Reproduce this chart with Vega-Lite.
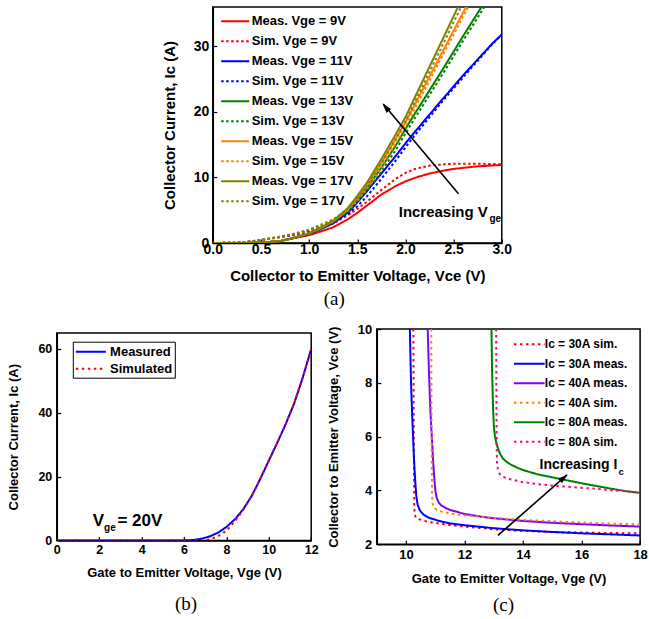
{
"$schema":"https://vega.github.io/schema/vega-lite/v6.json",
"background":"white",
"autosize":{"type":"pad"},
"padding":{"left":5.8,"top":6,"right":0,"bottom":0},
"spacing":11.7,
"resolve":{"scale":{"x":"independent","y":"independent","color":"independent","strokeDash":"independent"},"legend":{"color":"independent","strokeDash":"independent"}},
"config":{
 "font":"Liberation Sans",
 "view":{"stroke":null},
 "axis":{"labelFont":"Liberation Sans","labelFontWeight":"bold","titleFont":"Liberation Sans","titleFontWeight":"bold","labelColor":"black","titleColor":"black","domainColor":"black","domainWidth":1.5,"tickColor":"black","tickWidth":1.2,"tickSize":-4,"labelPadding":8,"grid":false,"labelFlush":false,"labelOverlap":false},
 "legend":{"labelFont":"Liberation Sans","labelFontWeight":"bold","labelColor":"black"}
},
"datasets":{
"a":[
{"s":"Meas. Vge = 9V","x":0,"y":0},{"s":"Meas. Vge = 9V","x":0.3,"y":0},{"s":"Meas. Vge = 9V","x":0.5,"y":0.05},{"s":"Meas. Vge = 9V","x":0.7,"y":0.3},{"s":"Meas. Vge = 9V","x":0.85,"y":0.75},{"s":"Meas. Vge = 9V","x":1.0,"y":1.2},{"s":"Meas. Vge = 9V","x":1.15,"y":1.9},{"s":"Meas. Vge = 9V","x":1.25,"y":2.4},{"s":"Meas. Vge = 9V","x":1.4,"y":3.6},{"s":"Meas. Vge = 9V","x":1.5,"y":4.6},{"s":"Meas. Vge = 9V","x":1.6,"y":5.7},{"s":"Meas. Vge = 9V","x":1.75,"y":7.4},{"s":"Meas. Vge = 9V","x":1.9,"y":8.7},{"s":"Meas. Vge = 9V","x":2.0,"y":9.4},{"s":"Meas. Vge = 9V","x":2.1,"y":9.95},{"s":"Meas. Vge = 9V","x":2.25,"y":10.6},{"s":"Meas. Vge = 9V","x":2.4,"y":11.05},{"s":"Meas. Vge = 9V","x":2.5,"y":11.3},{"s":"Meas. Vge = 9V","x":2.75,"y":11.7},{"s":"Meas. Vge = 9V","x":3.0,"y":11.9},
{"s":"Sim. Vge = 9V","x":0,"y":0},{"s":"Sim. Vge = 9V","x":0.25,"y":0.05},{"s":"Sim. Vge = 9V","x":0.4,"y":0.25},{"s":"Sim. Vge = 9V","x":0.5,"y":0.45},{"s":"Sim. Vge = 9V","x":0.6,"y":0.65},{"s":"Sim. Vge = 9V","x":0.75,"y":1.0},{"s":"Sim. Vge = 9V","x":0.9,"y":1.4},{"s":"Sim. Vge = 9V","x":1.0,"y":1.7},{"s":"Sim. Vge = 9V","x":1.15,"y":2.4},{"s":"Sim. Vge = 9V","x":1.25,"y":3.0},{"s":"Sim. Vge = 9V","x":1.4,"y":4.2},{"s":"Sim. Vge = 9V","x":1.5,"y":5.2},{"s":"Sim. Vge = 9V","x":1.6,"y":6.3},{"s":"Sim. Vge = 9V","x":1.75,"y":8.1},{"s":"Sim. Vge = 9V","x":1.9,"y":9.8},{"s":"Sim. Vge = 9V","x":2.0,"y":10.7},{"s":"Sim. Vge = 9V","x":2.1,"y":11.3},{"s":"Sim. Vge = 9V","x":2.25,"y":11.8},{"s":"Sim. Vge = 9V","x":2.4,"y":12.0},{"s":"Sim. Vge = 9V","x":2.5,"y":12.1},{"s":"Sim. Vge = 9V","x":2.75,"y":12.1},{"s":"Sim. Vge = 9V","x":3.0,"y":12.0},
{"s":"Meas. Vge = 11V","x":0,"y":0},{"s":"Meas. Vge = 11V","x":0.3,"y":0},{"s":"Meas. Vge = 11V","x":0.5,"y":0.05},{"s":"Meas. Vge = 11V","x":0.7,"y":0.3},{"s":"Meas. Vge = 11V","x":0.85,"y":0.8},{"s":"Meas. Vge = 11V","x":1.0,"y":1.35},{"s":"Meas. Vge = 11V","x":1.15,"y":2.3},{"s":"Meas. Vge = 11V","x":1.25,"y":3.0},{"s":"Meas. Vge = 11V","x":1.4,"y":4.6},{"s":"Meas. Vge = 11V","x":1.5,"y":6.2},{"s":"Meas. Vge = 11V","x":1.6,"y":7.9},{"s":"Meas. Vge = 11V","x":1.75,"y":10.6},{"s":"Meas. Vge = 11V","x":1.9,"y":13.3},{"s":"Meas. Vge = 11V","x":2.0,"y":15.2},{"s":"Meas. Vge = 11V","x":2.1,"y":17.0},{"s":"Meas. Vge = 11V","x":2.25,"y":19.6},{"s":"Meas. Vge = 11V","x":2.4,"y":22.2},{"s":"Meas. Vge = 11V","x":2.5,"y":23.9},{"s":"Meas. Vge = 11V","x":2.6,"y":25.6},{"s":"Meas. Vge = 11V","x":2.75,"y":28.0},{"s":"Meas. Vge = 11V","x":2.9,"y":30.4},{"s":"Meas. Vge = 11V","x":3.0,"y":31.8},
{"s":"Sim. Vge = 11V","x":0,"y":0},{"s":"Sim. Vge = 11V","x":0.25,"y":0.05},{"s":"Sim. Vge = 11V","x":0.4,"y":0.25},{"s":"Sim. Vge = 11V","x":0.5,"y":0.45},{"s":"Sim. Vge = 11V","x":0.6,"y":0.7},{"s":"Sim. Vge = 11V","x":0.75,"y":1.05},{"s":"Sim. Vge = 11V","x":0.9,"y":1.5},{"s":"Sim. Vge = 11V","x":1.0,"y":1.85},{"s":"Sim. Vge = 11V","x":1.15,"y":2.6},{"s":"Sim. Vge = 11V","x":1.25,"y":3.2},{"s":"Sim. Vge = 11V","x":1.4,"y":4.4},{"s":"Sim. Vge = 11V","x":1.5,"y":5.6},{"s":"Sim. Vge = 11V","x":1.6,"y":7.1},{"s":"Sim. Vge = 11V","x":1.75,"y":9.8},{"s":"Sim. Vge = 11V","x":1.9,"y":12.6},{"s":"Sim. Vge = 11V","x":2.0,"y":14.6},{"s":"Sim. Vge = 11V","x":2.1,"y":16.5},{"s":"Sim. Vge = 11V","x":2.25,"y":19.2},{"s":"Sim. Vge = 11V","x":2.4,"y":21.9},{"s":"Sim. Vge = 11V","x":2.5,"y":23.6},{"s":"Sim. Vge = 11V","x":2.6,"y":25.3},{"s":"Sim. Vge = 11V","x":2.75,"y":27.8},{"s":"Sim. Vge = 11V","x":2.9,"y":30.3},{"s":"Sim. Vge = 11V","x":3.0,"y":31.8},
{"s":"Meas. Vge = 13V","x":0,"y":0},{"s":"Meas. Vge = 13V","x":0.3,"y":0},{"s":"Meas. Vge = 13V","x":0.5,"y":0.05},{"s":"Meas. Vge = 13V","x":0.7,"y":0.3},{"s":"Meas. Vge = 13V","x":0.85,"y":0.8},{"s":"Meas. Vge = 13V","x":1.0,"y":1.4},{"s":"Meas. Vge = 13V","x":1.15,"y":2.4},{"s":"Meas. Vge = 13V","x":1.25,"y":3.2},{"s":"Meas. Vge = 13V","x":1.4,"y":4.9},{"s":"Meas. Vge = 13V","x":1.5,"y":6.6},{"s":"Meas. Vge = 13V","x":1.6,"y":8.4},{"s":"Meas. Vge = 13V","x":1.75,"y":11.5},{"s":"Meas. Vge = 13V","x":1.9,"y":14.9},{"s":"Meas. Vge = 13V","x":2.0,"y":17.4},{"s":"Meas. Vge = 13V","x":2.1,"y":19.8},{"s":"Meas. Vge = 13V","x":2.25,"y":23.3},{"s":"Meas. Vge = 13V","x":2.4,"y":26.8},{"s":"Meas. Vge = 13V","x":2.5,"y":29.2},{"s":"Meas. Vge = 13V","x":2.6,"y":31.6},{"s":"Meas. Vge = 13V","x":2.75,"y":35.1},{"s":"Meas. Vge = 13V","x":2.9,"y":38.5},
{"s":"Sim. Vge = 13V","x":0,"y":0},{"s":"Sim. Vge = 13V","x":0.25,"y":0.05},{"s":"Sim. Vge = 13V","x":0.4,"y":0.25},{"s":"Sim. Vge = 13V","x":0.5,"y":0.45},{"s":"Sim. Vge = 13V","x":0.6,"y":0.7},{"s":"Sim. Vge = 13V","x":0.75,"y":1.1},{"s":"Sim. Vge = 13V","x":0.9,"y":1.55},{"s":"Sim. Vge = 13V","x":1.0,"y":1.95},{"s":"Sim. Vge = 13V","x":1.15,"y":2.75},{"s":"Sim. Vge = 13V","x":1.25,"y":3.4},{"s":"Sim. Vge = 13V","x":1.4,"y":4.75},{"s":"Sim. Vge = 13V","x":1.5,"y":6.2},{"s":"Sim. Vge = 13V","x":1.6,"y":7.9},{"s":"Sim. Vge = 13V","x":1.75,"y":10.9},{"s":"Sim. Vge = 13V","x":1.9,"y":14.2},{"s":"Sim. Vge = 13V","x":2.0,"y":16.7},{"s":"Sim. Vge = 13V","x":2.1,"y":19.1},{"s":"Sim. Vge = 13V","x":2.25,"y":22.6},{"s":"Sim. Vge = 13V","x":2.4,"y":26.1},{"s":"Sim. Vge = 13V","x":2.5,"y":28.5},{"s":"Sim. Vge = 13V","x":2.6,"y":30.9},{"s":"Sim. Vge = 13V","x":2.75,"y":34.4},{"s":"Sim. Vge = 13V","x":2.9,"y":37.9},
{"s":"Meas. Vge = 15V","x":0,"y":0},{"s":"Meas. Vge = 15V","x":0.3,"y":0},{"s":"Meas. Vge = 15V","x":0.5,"y":0.05},{"s":"Meas. Vge = 15V","x":0.7,"y":0.3},{"s":"Meas. Vge = 15V","x":0.85,"y":0.85},{"s":"Meas. Vge = 15V","x":1.0,"y":1.45},{"s":"Meas. Vge = 15V","x":1.15,"y":2.5},{"s":"Meas. Vge = 15V","x":1.25,"y":3.3},{"s":"Meas. Vge = 15V","x":1.4,"y":5.1},{"s":"Meas. Vge = 15V","x":1.5,"y":6.9},{"s":"Meas. Vge = 15V","x":1.6,"y":8.8},{"s":"Meas. Vge = 15V","x":1.75,"y":12.2},{"s":"Meas. Vge = 15V","x":1.9,"y":15.9},{"s":"Meas. Vge = 15V","x":2.0,"y":18.4},{"s":"Meas. Vge = 15V","x":2.1,"y":21.2},{"s":"Meas. Vge = 15V","x":2.25,"y":25.4},{"s":"Meas. Vge = 15V","x":2.4,"y":29.6},{"s":"Meas. Vge = 15V","x":2.5,"y":32.4},{"s":"Meas. Vge = 15V","x":2.6,"y":35.2},{"s":"Meas. Vge = 15V","x":2.7,"y":38.0},
{"s":"Sim. Vge = 15V","x":0,"y":0},{"s":"Sim. Vge = 15V","x":0.25,"y":0.05},{"s":"Sim. Vge = 15V","x":0.4,"y":0.25},{"s":"Sim. Vge = 15V","x":0.5,"y":0.45},{"s":"Sim. Vge = 15V","x":0.6,"y":0.7},{"s":"Sim. Vge = 15V","x":0.75,"y":1.1},{"s":"Sim. Vge = 15V","x":0.9,"y":1.6},{"s":"Sim. Vge = 15V","x":1.0,"y":2.0},{"s":"Sim. Vge = 15V","x":1.15,"y":2.85},{"s":"Sim. Vge = 15V","x":1.25,"y":3.5},{"s":"Sim. Vge = 15V","x":1.4,"y":5.0},{"s":"Sim. Vge = 15V","x":1.5,"y":6.5},{"s":"Sim. Vge = 15V","x":1.6,"y":8.3},{"s":"Sim. Vge = 15V","x":1.75,"y":11.6},{"s":"Sim. Vge = 15V","x":1.9,"y":15.2},{"s":"Sim. Vge = 15V","x":2.0,"y":17.8},{"s":"Sim. Vge = 15V","x":2.1,"y":20.6},{"s":"Sim. Vge = 15V","x":2.25,"y":24.8},{"s":"Sim. Vge = 15V","x":2.4,"y":29.0},{"s":"Sim. Vge = 15V","x":2.5,"y":31.8},{"s":"Sim. Vge = 15V","x":2.6,"y":34.6},{"s":"Sim. Vge = 15V","x":2.7,"y":37.4},
{"s":"Meas. Vge = 17V","x":0,"y":0},{"s":"Meas. Vge = 17V","x":0.3,"y":0},{"s":"Meas. Vge = 17V","x":0.5,"y":0.05},{"s":"Meas. Vge = 17V","x":0.7,"y":0.3},{"s":"Meas. Vge = 17V","x":0.85,"y":0.85},{"s":"Meas. Vge = 17V","x":1.0,"y":1.5},{"s":"Meas. Vge = 17V","x":1.15,"y":2.6},{"s":"Meas. Vge = 17V","x":1.25,"y":3.4},{"s":"Meas. Vge = 17V","x":1.4,"y":5.3},{"s":"Meas. Vge = 17V","x":1.5,"y":7.2},{"s":"Meas. Vge = 17V","x":1.6,"y":9.2},{"s":"Meas. Vge = 17V","x":1.75,"y":12.8},{"s":"Meas. Vge = 17V","x":1.9,"y":16.6},{"s":"Meas. Vge = 17V","x":2.0,"y":19.2},{"s":"Meas. Vge = 17V","x":2.1,"y":22.3},{"s":"Meas. Vge = 17V","x":2.25,"y":26.9},{"s":"Meas. Vge = 17V","x":2.4,"y":31.5},{"s":"Meas. Vge = 17V","x":2.5,"y":34.6},{"s":"Meas. Vge = 17V","x":2.6,"y":37.7},
{"s":"Sim. Vge = 17V","x":0,"y":0},{"s":"Sim. Vge = 17V","x":0.25,"y":0.05},{"s":"Sim. Vge = 17V","x":0.4,"y":0.25},{"s":"Sim. Vge = 17V","x":0.5,"y":0.45},{"s":"Sim. Vge = 17V","x":0.6,"y":0.7},{"s":"Sim. Vge = 17V","x":0.75,"y":1.1},{"s":"Sim. Vge = 17V","x":0.9,"y":1.6},{"s":"Sim. Vge = 17V","x":1.0,"y":2.05},{"s":"Sim. Vge = 17V","x":1.15,"y":2.95},{"s":"Sim. Vge = 17V","x":1.25,"y":3.6},{"s":"Sim. Vge = 17V","x":1.4,"y":5.2},{"s":"Sim. Vge = 17V","x":1.5,"y":6.8},{"s":"Sim. Vge = 17V","x":1.6,"y":8.7},{"s":"Sim. Vge = 17V","x":1.75,"y":12.2},{"s":"Sim. Vge = 17V","x":1.9,"y":15.9},{"s":"Sim. Vge = 17V","x":2.0,"y":18.6},{"s":"Sim. Vge = 17V","x":2.1,"y":21.6},{"s":"Sim. Vge = 17V","x":2.25,"y":26.1},{"s":"Sim. Vge = 17V","x":2.4,"y":30.6},{"s":"Sim. Vge = 17V","x":2.5,"y":33.7},{"s":"Sim. Vge = 17V","x":2.6,"y":36.7}
],
"b":[
{"s":"Measured","x":0,"y":0},{"s":"Measured","x":6.0,"y":0},{"s":"Measured","x":6.4,"y":0.1},{"s":"Measured","x":6.8,"y":0.5},{"s":"Measured","x":7.2,"y":1.2},{"s":"Measured","x":7.6,"y":2.4},{"s":"Measured","x":8.0,"y":4.2},{"s":"Measured","x":8.4,"y":6.6},{"s":"Measured","x":8.8,"y":9.8},{"s":"Measured","x":9.2,"y":14.0},{"s":"Measured","x":9.6,"y":19.3},{"s":"Measured","x":10.0,"y":25.0},{"s":"Measured","x":10.4,"y":30.6},{"s":"Measured","x":10.8,"y":36.5},{"s":"Measured","x":11.2,"y":43.0},{"s":"Measured","x":11.6,"y":51.0},{"s":"Measured","x":12.0,"y":60.0},
{"s":"Simulated","x":0,"y":0},{"s":"Simulated","x":7.0,"y":0},{"s":"Simulated","x":7.3,"y":0.5},{"s":"Simulated","x":7.6,"y":1.3},{"s":"Simulated","x":8.0,"y":3.0},{"s":"Simulated","x":8.4,"y":6.0},{"s":"Simulated","x":8.8,"y":9.6},{"s":"Simulated","x":9.2,"y":14.0},{"s":"Simulated","x":9.6,"y":19.3},{"s":"Simulated","x":10.0,"y":25.0},{"s":"Simulated","x":10.4,"y":30.6},{"s":"Simulated","x":10.8,"y":36.5},{"s":"Simulated","x":11.2,"y":43.0},{"s":"Simulated","x":11.6,"y":51.0},{"s":"Simulated","x":12.0,"y":60.0}
],
"c":[
{"s":"Ic = 30A sim.","x":10.25,"y":10},{"s":"Ic = 30A sim.","x":10.26,"y":7},{"s":"Ic = 30A sim.","x":10.27,"y":5},{"s":"Ic = 30A sim.","x":10.28,"y":3.5},{"s":"Ic = 30A sim.","x":10.29,"y":3.15},{"s":"Ic = 30A sim.","x":10.33,"y":3.0},{"s":"Ic = 30A sim.","x":10.45,"y":2.93},{"s":"Ic = 30A sim.","x":10.6,"y":2.88},{"s":"Ic = 30A sim.","x":10.8,"y":2.83},{"s":"Ic = 30A sim.","x":11.2,"y":2.76},{"s":"Ic = 30A sim.","x":11.5,"y":2.72},{"s":"Ic = 30A sim.","x":12,"y":2.66},{"s":"Ic = 30A sim.","x":13,"y":2.56},{"s":"Ic = 30A sim.","x":14,"y":2.5},{"s":"Ic = 30A sim.","x":15,"y":2.46},{"s":"Ic = 30A sim.","x":16,"y":2.44},{"s":"Ic = 30A sim.","x":17,"y":2.42},{"s":"Ic = 30A sim.","x":18,"y":2.41},
{"s":"Ic = 30A meas.","x":10.13,"y":10},{"s":"Ic = 30A meas.","x":10.17,"y":8},{"s":"Ic = 30A meas.","x":10.22,"y":6.5},{"s":"Ic = 30A meas.","x":10.27,"y":5.2},{"s":"Ic = 30A meas.","x":10.31,"y":4.4},{"s":"Ic = 30A meas.","x":10.35,"y":3.8},{"s":"Ic = 30A meas.","x":10.4,"y":3.45},{"s":"Ic = 30A meas.","x":10.48,"y":3.25},{"s":"Ic = 30A meas.","x":10.6,"y":3.1},{"s":"Ic = 30A meas.","x":10.8,"y":2.98},{"s":"Ic = 30A meas.","x":11.2,"y":2.85},{"s":"Ic = 30A meas.","x":11.5,"y":2.78},{"s":"Ic = 30A meas.","x":12,"y":2.71},{"s":"Ic = 30A meas.","x":13,"y":2.6},{"s":"Ic = 30A meas.","x":14,"y":2.52},{"s":"Ic = 30A meas.","x":15,"y":2.46},{"s":"Ic = 30A meas.","x":16,"y":2.41},{"s":"Ic = 30A meas.","x":17,"y":2.37},{"s":"Ic = 30A meas.","x":18,"y":2.33},
{"s":"Ic = 40A meas.","x":10.74,"y":10},{"s":"Ic = 40A meas.","x":10.78,"y":8.5},{"s":"Ic = 40A meas.","x":10.83,"y":7},{"s":"Ic = 40A meas.","x":10.88,"y":6},{"s":"Ic = 40A meas.","x":10.93,"y":5},{"s":"Ic = 40A meas.","x":10.97,"y":4.4},{"s":"Ic = 40A meas.","x":11.0,"y":4.0},{"s":"Ic = 40A meas.","x":11.05,"y":3.72},{"s":"Ic = 40A meas.","x":11.12,"y":3.55},{"s":"Ic = 40A meas.","x":11.2,"y":3.45},{"s":"Ic = 40A meas.","x":11.35,"y":3.35},{"s":"Ic = 40A meas.","x":11.5,"y":3.28},{"s":"Ic = 40A meas.","x":12,"y":3.13},{"s":"Ic = 40A meas.","x":12.5,"y":3.04},{"s":"Ic = 40A meas.","x":13,"y":2.97},{"s":"Ic = 40A meas.","x":14,"y":2.87},{"s":"Ic = 40A meas.","x":15,"y":2.8},{"s":"Ic = 40A meas.","x":16,"y":2.75},{"s":"Ic = 40A meas.","x":17,"y":2.7},{"s":"Ic = 40A meas.","x":18,"y":2.66},
{"s":"Ic = 40A sim.","x":10.86,"y":10},{"s":"Ic = 40A sim.","x":10.87,"y":7},{"s":"Ic = 40A sim.","x":10.88,"y":5},{"s":"Ic = 40A sim.","x":10.89,"y":3.8},{"s":"Ic = 40A sim.","x":10.91,"y":3.5},{"s":"Ic = 40A sim.","x":10.95,"y":3.38},{"s":"Ic = 40A sim.","x":11.05,"y":3.28},{"s":"Ic = 40A sim.","x":11.2,"y":3.22},{"s":"Ic = 40A sim.","x":11.5,"y":3.15},{"s":"Ic = 40A sim.","x":12,"y":3.08},{"s":"Ic = 40A sim.","x":13,"y":2.98},{"s":"Ic = 40A sim.","x":14,"y":2.91},{"s":"Ic = 40A sim.","x":15,"y":2.86},{"s":"Ic = 40A sim.","x":16,"y":2.81},{"s":"Ic = 40A sim.","x":17,"y":2.77},{"s":"Ic = 40A sim.","x":18,"y":2.74},
{"s":"Ic = 80A meas.","x":12.92,"y":10},{"s":"Ic = 80A meas.","x":12.94,"y":8.5},{"s":"Ic = 80A meas.","x":12.97,"y":7.2},{"s":"Ic = 80A meas.","x":13.0,"y":6.4},{"s":"Ic = 80A meas.","x":13.04,"y":6.0},{"s":"Ic = 80A meas.","x":13.1,"y":5.7},{"s":"Ic = 80A meas.","x":13.2,"y":5.4},{"s":"Ic = 80A meas.","x":13.3,"y":5.2},{"s":"Ic = 80A meas.","x":13.45,"y":5.05},{"s":"Ic = 80A meas.","x":13.6,"y":4.95},{"s":"Ic = 80A meas.","x":13.8,"y":4.85},{"s":"Ic = 80A meas.","x":14,"y":4.76},{"s":"Ic = 80A meas.","x":14.5,"y":4.6},{"s":"Ic = 80A meas.","x":15,"y":4.49},{"s":"Ic = 80A meas.","x":15.5,"y":4.38},{"s":"Ic = 80A meas.","x":16,"y":4.27},{"s":"Ic = 80A meas.","x":16.5,"y":4.17},{"s":"Ic = 80A meas.","x":17,"y":4.07},{"s":"Ic = 80A meas.","x":17.5,"y":3.98},{"s":"Ic = 80A meas.","x":18,"y":3.91},
{"s":"Ic = 80A sim.","x":13.08,"y":10},{"s":"Ic = 80A sim.","x":13.09,"y":7},{"s":"Ic = 80A sim.","x":13.1,"y":5.5},{"s":"Ic = 80A sim.","x":13.11,"y":5.0},{"s":"Ic = 80A sim.","x":13.14,"y":4.8},{"s":"Ic = 80A sim.","x":13.2,"y":4.62},{"s":"Ic = 80A sim.","x":13.3,"y":4.52},{"s":"Ic = 80A sim.","x":13.5,"y":4.43},{"s":"Ic = 80A sim.","x":13.8,"y":4.36},{"s":"Ic = 80A sim.","x":14,"y":4.31},{"s":"Ic = 80A sim.","x":14.5,"y":4.24},{"s":"Ic = 80A sim.","x":15,"y":4.18},{"s":"Ic = 80A sim.","x":15.5,"y":4.14},{"s":"Ic = 80A sim.","x":16,"y":4.1},{"s":"Ic = 80A sim.","x":16.5,"y":4.06},{"s":"Ic = 80A sim.","x":17,"y":4.01},{"s":"Ic = 80A sim.","x":17.5,"y":3.97},{"s":"Ic = 80A sim.","x":18,"y":3.93}
]
},
"vconcat":[
{"bounds":"flush","spacing":10,
 "resolve":{"scale":{"x":"independent","y":"independent","color":"independent","strokeDash":"independent"},"legend":{"color":"independent","strokeDash":"independent"}},
 "hconcat":[
 {"width":146,"height":236,"data":{"values":[]},"mark":"point"},
 {"width":289,"height":236,
  "view":{"stroke":"black","strokeWidth":1.5},
  "title":{"text":"(a)","orient":"bottom","font":"Liberation Serif","fontSize":19,"fontWeight":"normal","color":"black","offset":7,"dx":-23,"anchor":"middle","frame":"group"},
  "layer":[
   {"data":{"name":"a"},"mark":{"type":"line","clip":true,"strokeWidth":2},
    "encoding":{
     "x":{"field":"x","type":"quantitative","scale":{"domain":[0,3],"nice":false,"zero":false},
      "axis":{"title":"Collector to Emitter Voltage, Vce (V)","values":[0,0.25,0.5,0.75,1,1.25,1.5,1.75,2,2.25,2.5,2.75,3],"labelExpr":"abs(datum.value*2 - round(datum.value*2)) < 0.001 ? format(datum.value, '.1f') : ''","labelOverlap":false,"labelFontSize":14,"labelPadding":3.5,"titleFontSize":15,"titlePadding":11.5}},
     "y":{"field":"y","type":"quantitative","scale":{"domain":[0,36],"nice":false},
      "axis":{"title":"Collector Current, Ic (A)","values":[0,2.5,5,7.5,10,12.5,15,17.5,20,22.5,25,27.5,30,32.5,35],"labelExpr":"datum.value % 5 == 0 ? datum.value : ''","labelOverlap":false,"labelFontSize":14,"titleFontSize":15,"titlePadding":16}},
     "color":{"field":"s","type":"nominal",
      "scale":{"domain":["Meas. Vge = 9V","Sim. Vge = 9V","Meas. Vge = 11V","Sim. Vge = 11V","Meas. Vge = 13V","Sim. Vge = 13V","Meas. Vge = 15V","Sim. Vge = 15V","Meas. Vge = 17V","Sim. Vge = 17V"],"range":["#ff0000","#ff0000","#0000ff","#0000ff","#008000","#008000","#ff8000","#ff8000","#808000","#808000"]},
      "legend":{"title":null,"orient":"none","legendX":7.4,"legendY":3.3,"symbolType":"M-1,0H1.8","symbolSize":400,"symbolStrokeWidth":2,"labelFontSize":13,"labelOffset":9.5,"rowPadding":2,"padding":0,"labelLimit":200}},
     "strokeDash":{"field":"s","type":"nominal",
      "scale":{"domain":["Meas. Vge = 9V","Sim. Vge = 9V","Meas. Vge = 11V","Sim. Vge = 11V","Meas. Vge = 13V","Sim. Vge = 13V","Meas. Vge = 15V","Sim. Vge = 15V","Meas. Vge = 17V","Sim. Vge = 17V"],"range":[[1,0],[2.5,2.5],[1,0],[2.5,2.5],[1,0],[2.5,2.5],[1,0],[2.5,2.5],[1,0],[2.5,2.5]]},
      "legend":{"title":null,"orient":"none","legendX":7.4,"legendY":3.3,"symbolType":"M-1,0H1.8","symbolSize":400,"symbolStrokeWidth":2,"labelFontSize":13,"labelOffset":9.5,"rowPadding":2,"padding":0,"labelLimit":200}}
    }},
   {"data":{"values":[{}]},"mark":{"type":"rule","color":"black","strokeWidth":1.6},
    "encoding":{"x":{"datum":2.55,"type":"quantitative"},"y":{"datum":7.5,"type":"quantitative"},"x2":{"datum":1.77},"y2":{"datum":21.2}}},
   {"data":{"values":[{}]},"mark":{"type":"point","shape":"M0,0L0.6,2L-0.6,2Z","filled":true,"color":"black","opacity":1,"size":100,"angle":320},
    "encoding":{"x":{"datum":1.76,"type":"quantitative"},"y":{"datum":21.3,"type":"quantitative"}}},
   {"data":{"values":[{}]},"mark":{"type":"text","text":"Increasing V","align":"right","baseline":"middle","font":"Liberation Sans","fontWeight":"bold","fontSize":15,"color":"black"},
    "encoding":{"x":{"datum":2.855,"type":"quantitative"},"y":{"datum":4.74,"type":"quantitative"}}},
   {"data":{"values":[{}]},"mark":{"type":"text","text":"ge","align":"left","baseline":"middle","font":"Liberation Sans","fontWeight":"bold","fontSize":10,"color":"black"},
    "encoding":{"x":{"datum":2.872,"type":"quantitative"},"y":{"datum":3.63,"type":"quantitative"}}}
  ]}
 ]},
{"bounds":"flush","spacing":65,"center":true,
 "resolve":{"scale":{"x":"independent","y":"independent","color":"independent","strokeDash":"independent"},"legend":{"color":"independent","strokeDash":"independent"}},
 "hconcat":[
  {"width":254.4,"height":207.4,
   "view":{"stroke":"black","strokeWidth":1.5},
   "title":{"text":"(b)","orient":"bottom","font":"Liberation Serif","fontSize":19,"fontWeight":"normal","color":"black","offset":15,"dx":2,"anchor":"middle","frame":"group"},
   "layer":[
    {"data":{"name":"b"},"mark":{"type":"line","clip":true,"strokeWidth":2},
     "encoding":{
      "x":{"field":"x","type":"quantitative","scale":{"domain":[0,12],"nice":false,"zero":false},
       "axis":{"title":"Gate to Emitter Voltage, Vge (V)","values":[0,1,2,3,4,5,6,7,8,9,10,11,12],"labelExpr":"datum.value % 2 == 0 ? datum.value : ''","labelOverlap":false,"labelFontSize":12.5,"labelPadding":7,"titleFontSize":13,"titlePadding":11}},
      "y":{"field":"y","type":"quantitative","scale":{"domain":[0,65],"nice":false},
       "axis":{"title":"Collector Current, Ic (A)","values":[0,5,10,15,20,25,30,35,40,45,50,55,60,65],"labelExpr":"datum.value % 10 == 0 ? datum.value : ''","labelOverlap":false,"labelFontSize":12.5,"labelPadding":9,"titleFontSize":13,"titlePadding":17.8}},
      "color":{"field":"s","type":"nominal","scale":{"domain":["Measured","Simulated"],"range":["#0000ff","#ff0000"]},
       "legend":{"title":null,"orient":"none","legendX":16,"legendY":8.7,"symbolType":"M-1,0H3.29","symbolSize":196,"symbolStrokeWidth":2,"labelFontSize":13,"labelOffset":19.3,"rowPadding":2,"padding":2,"strokeColor":"black"}},
      "strokeDash":{"field":"s","type":"nominal","scale":{"domain":["Measured","Simulated"],"range":[[1,0],[2.5,3.5]]},
       "legend":{"title":null,"orient":"none","legendX":16,"legendY":8.7,"symbolType":"M-1,0H3.29","symbolSize":196,"symbolStrokeWidth":2,"labelFontSize":13,"labelOffset":19.3,"rowPadding":2,"padding":2,"strokeColor":"black"}}
     }},
    {"data":{"values":[{}]},"mark":{"type":"text","text":"V","align":"left","baseline":"middle","font":"Liberation Sans","fontWeight":"bold","fontSize":17,"color":"black"},
     "encoding":{"x":{"datum":1.7,"type":"quantitative"},"y":{"datum":6.0,"type":"quantitative"}}},
    {"data":{"values":[{}]},"mark":{"type":"text","text":"ge","align":"left","baseline":"middle","font":"Liberation Sans","fontWeight":"bold","fontSize":10,"color":"black"},
     "encoding":{"x":{"datum":2.23,"type":"quantitative"},"y":{"datum":3.9,"type":"quantitative"}}},
    {"data":{"values":[{}]},"mark":{"type":"text","text":"= 20V","align":"left","baseline":"middle","font":"Liberation Sans","fontWeight":"bold","fontSize":17,"color":"black"},
     "encoding":{"x":{"datum":2.86,"type":"quantitative"},"y":{"datum":6.0,"type":"quantitative"}}}
   ]},
 {"width":263.3,"height":215.3,
  "view":{"stroke":"black","strokeWidth":1.5},
  "title":{"text":"(c)","orient":"bottom","font":"Liberation Serif","fontSize":19,"fontWeight":"normal","color":"black","offset":11,"dx":-5,"anchor":"middle","frame":"group"},
  "layer":[
   {"data":{"name":"c"},"mark":{"type":"line","clip":true,"strokeWidth":2},
    "encoding":{
     "x":{"field":"x","type":"quantitative","scale":{"domain":[9,18],"nice":false,"zero":false},
      "axis":{"title":"Gate to Emitter Voltage, Vge (V)","values":[10,11,12,13,14,15,16,17,18],"labelExpr":"datum.value % 2 == 0 ? datum.value : ''","labelOverlap":false,"labelFontSize":13,"labelPadding":8,"titleFontSize":13,"titlePadding":11}},
     "y":{"field":"y","type":"quantitative","scale":{"domain":[2,10],"nice":false,"zero":false},
      "axis":{"title":"Collector to Emitter Voltage, Vce (V)","values":[2,3,4,5,6,7,8,9,10],"labelExpr":"datum.value % 2 == 0 ? datum.value : ''","labelOverlap":false,"labelFontSize":13,"labelPadding":9,"titleFontSize":13,"titlePadding":17}},
     "color":{"field":"s","type":"nominal",
      "scale":{"domain":["Ic = 30A sim.","Ic = 30A meas.","Ic = 40A meas.","Ic = 40A sim.","Ic = 80A meas.","Ic = 80A sim."],"range":["#ff0000","#0000ff","#8000ff","#ff8000","#008000","#ff0080"]},
      "legend":{"title":null,"orient":"none","legendX":136,"legendY":4.3,"symbolType":"M-1,0H2.117","symbolSize":388,"symbolStrokeWidth":2,"labelFontSize":12,"labelOffset":10,"rowPadding":2.5,"padding":0,"labelLimit":200}},
     "strokeDash":{"field":"s","type":"nominal",
      "scale":{"domain":["Ic = 30A sim.","Ic = 30A meas.","Ic = 40A meas.","Ic = 40A sim.","Ic = 80A meas.","Ic = 80A sim."],"range":[[2.5,3.5],[1,0],[1,0],[2.5,3.5],[1,0],[2.5,3.5]]},
      "legend":{"title":null,"orient":"none","legendX":136,"legendY":4.3,"symbolType":"M-1,0H2.117","symbolSize":388,"symbolStrokeWidth":2,"labelFontSize":12,"labelOffset":10,"rowPadding":2.5,"padding":0,"labelLimit":200}}
    }},
   {"data":{"values":[{}]},"mark":{"type":"rule","color":"black","strokeWidth":1.6},
    "encoding":{"x":{"datum":13.14,"type":"quantitative"},"y":{"datum":2.33,"type":"quantitative"},"x2":{"datum":15.5},"y2":{"datum":4.58}}},
   {"data":{"values":[{}]},"mark":{"type":"point","shape":"M0,0L0.6,2L-0.6,2Z","filled":true,"color":"black","opacity":1,"size":100,"angle":48.7},
    "encoding":{"x":{"datum":15.52,"type":"quantitative"},"y":{"datum":4.6,"type":"quantitative"}}},
   {"data":{"values":[{}]},"mark":{"type":"text","text":"Increasing I","align":"right","baseline":"middle","font":"Liberation Sans","fontWeight":"bold","fontSize":14,"color":"black"},
    "encoding":{"x":{"datum":17.22,"type":"quantitative"},"y":{"datum":4.95,"type":"quantitative"}}},
   {"data":{"values":[{}]},"mark":{"type":"text","text":"c","align":"left","baseline":"middle","font":"Liberation Sans","fontWeight":"bold","fontSize":9.5,"color":"black"},
    "encoding":{"x":{"datum":17.26,"type":"quantitative"},"y":{"datum":4.68,"type":"quantitative"}}}
  ]}
 ]}
]
}
